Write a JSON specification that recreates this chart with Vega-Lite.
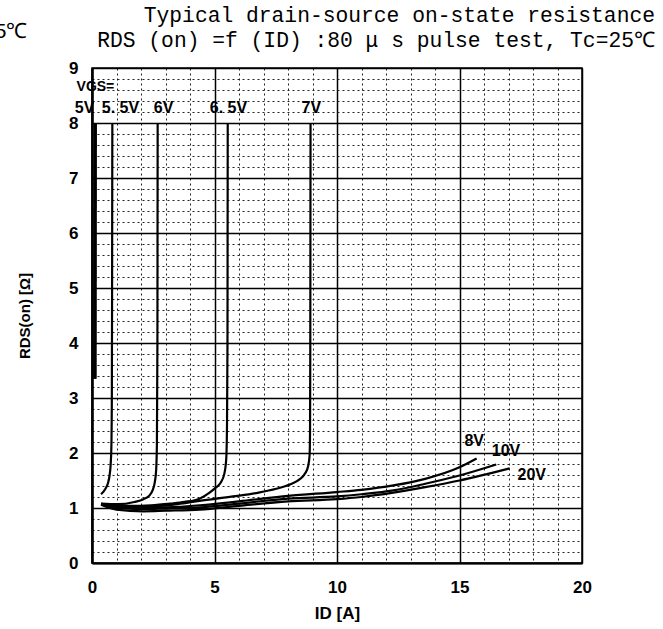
{
  "$schema": "https://vega.github.io/schema/vega-lite/v6.json",
  "autosize": {"type": "none"},
  "padding": {"left": 92, "top": 68, "right": 81, "bottom": 66},
  "width": 490,
  "height": 495,
  "background": "white",
  "config": {
    "view": {"stroke": "black", "strokeWidth": 1.5},
    "font": "Liberation Sans"
  },
  "title": {
    "text": "Typical drain-source on-state resistance",
    "subtitle": "RDS (on) =f (ID) :80 μ s pulse test,  Tc=25℃",
    "anchor": "end",
    "frame": "group",
    "align": "right",
    "dx": 73,
    "dy": 36,
    "font": "Liberation Mono",
    "fontSize": 21.3,
    "fontWeight": "normal",
    "color": "black",
    "subtitleFont": "Liberation Mono",
    "subtitleFontSize": 21.3,
    "subtitleColor": "black",
    "subtitlePadding": 4,
    "offset": 6
  },
  "datasets": {
    "curves": [
      {"vgs": "5V", "id": 0.12, "r": 3.35},
      {"vgs": "5V", "id": 0.13, "r": 8.0},
      {"vgs": "5.5V", "id": 0.37, "r": 1.25},
      {"vgs": "5.5V", "id": 0.55, "r": 1.35},
      {"vgs": "5.5V", "id": 0.65, "r": 1.45},
      {"vgs": "5.5V", "id": 0.72, "r": 1.6},
      {"vgs": "5.5V", "id": 0.76, "r": 1.78},
      {"vgs": "5.5V", "id": 0.79, "r": 2.1},
      {"vgs": "5.5V", "id": 0.81, "r": 3.0},
      {"vgs": "5.5V", "id": 0.82, "r": 5.0},
      {"vgs": "5.5V", "id": 0.83, "r": 8.0},
      {"vgs": "6V", "id": 0.37, "r": 1.08},
      {"vgs": "6V", "id": 1.05, "r": 1.07},
      {"vgs": "6V", "id": 1.73, "r": 1.11},
      {"vgs": "6V", "id": 2.1, "r": 1.16},
      {"vgs": "6V", "id": 2.35, "r": 1.23},
      {"vgs": "6V", "id": 2.48, "r": 1.33},
      {"vgs": "6V", "id": 2.56, "r": 1.46},
      {"vgs": "6V", "id": 2.62, "r": 1.7},
      {"vgs": "6V", "id": 2.65, "r": 2.2},
      {"vgs": "6V", "id": 2.67, "r": 4.0},
      {"vgs": "6V", "id": 2.68, "r": 8.0},
      {"vgs": "6.5V", "id": 0.37, "r": 1.07},
      {"vgs": "6.5V", "id": 1.5, "r": 1.04},
      {"vgs": "6.5V", "id": 2.41, "r": 1.05},
      {"vgs": "6.5V", "id": 3.2, "r": 1.08},
      {"vgs": "6.5V", "id": 3.78, "r": 1.11},
      {"vgs": "6.5V", "id": 4.39, "r": 1.17},
      {"vgs": "6.5V", "id": 4.8, "r": 1.28},
      {"vgs": "6.5V", "id": 5.05, "r": 1.37},
      {"vgs": "6.5V", "id": 5.25, "r": 1.46},
      {"vgs": "6.5V", "id": 5.4, "r": 1.62},
      {"vgs": "6.5V", "id": 5.48, "r": 1.9},
      {"vgs": "6.5V", "id": 5.51, "r": 2.5},
      {"vgs": "6.5V", "id": 5.53, "r": 4.0},
      {"vgs": "6.5V", "id": 5.54, "r": 8.0},
      {"vgs": "7V", "id": 0.37, "r": 1.06},
      {"vgs": "7V", "id": 2.0, "r": 1.02},
      {"vgs": "7V", "id": 3.5, "r": 1.07},
      {"vgs": "7V", "id": 4.39, "r": 1.13},
      {"vgs": "7V", "id": 5.75, "r": 1.21},
      {"vgs": "7V", "id": 6.8, "r": 1.28},
      {"vgs": "7V", "id": 7.52, "r": 1.35},
      {"vgs": "7V", "id": 8.1, "r": 1.43},
      {"vgs": "7V", "id": 8.47, "r": 1.52},
      {"vgs": "7V", "id": 8.7, "r": 1.63},
      {"vgs": "7V", "id": 8.82, "r": 1.76},
      {"vgs": "7V", "id": 8.88, "r": 1.95},
      {"vgs": "7V", "id": 8.9, "r": 2.4},
      {"vgs": "7V", "id": 8.91, "r": 4.0},
      {"vgs": "7V", "id": 8.92, "r": 8.0},
      {"vgs": "8V", "id": 0.37, "r": 1.08},
      {"vgs": "8V", "id": 1.0, "r": 1.02},
      {"vgs": "8V", "id": 2.0, "r": 1.0},
      {"vgs": "8V", "id": 3.0, "r": 1.01},
      {"vgs": "8V", "id": 4.4, "r": 1.05},
      {"vgs": "8V", "id": 6.0, "r": 1.12},
      {"vgs": "8V", "id": 8.0, "r": 1.22},
      {"vgs": "8V", "id": 10.0, "r": 1.29},
      {"vgs": "8V", "id": 11.0, "r": 1.33},
      {"vgs": "8V", "id": 12.3, "r": 1.41},
      {"vgs": "8V", "id": 13.6, "r": 1.53},
      {"vgs": "8V", "id": 15.0, "r": 1.74},
      {"vgs": "8V", "id": 15.7, "r": 1.9},
      {"vgs": "10V", "id": 0.37, "r": 1.07},
      {"vgs": "10V", "id": 1.0, "r": 1.0},
      {"vgs": "10V", "id": 2.0, "r": 0.98},
      {"vgs": "10V", "id": 3.0, "r": 0.99},
      {"vgs": "10V", "id": 4.4, "r": 1.01},
      {"vgs": "10V", "id": 6.0, "r": 1.08},
      {"vgs": "10V", "id": 8.0, "r": 1.17},
      {"vgs": "10V", "id": 10.0, "r": 1.21},
      {"vgs": "10V", "id": 11.0, "r": 1.25},
      {"vgs": "10V", "id": 12.3, "r": 1.32},
      {"vgs": "10V", "id": 13.6, "r": 1.44},
      {"vgs": "10V", "id": 15.0, "r": 1.59},
      {"vgs": "10V", "id": 16.5, "r": 1.79},
      {"vgs": "20V", "id": 0.37, "r": 1.06},
      {"vgs": "20V", "id": 1.0, "r": 0.97},
      {"vgs": "20V", "id": 2.1, "r": 0.94},
      {"vgs": "20V", "id": 3.0, "r": 0.95},
      {"vgs": "20V", "id": 4.4, "r": 0.97},
      {"vgs": "20V", "id": 6.0, "r": 1.04},
      {"vgs": "20V", "id": 8.0, "r": 1.12},
      {"vgs": "20V", "id": 10.0, "r": 1.16},
      {"vgs": "20V", "id": 11.0, "r": 1.2},
      {"vgs": "20V", "id": 12.3, "r": 1.28},
      {"vgs": "20V", "id": 13.6, "r": 1.38},
      {"vgs": "20V", "id": 15.0, "r": 1.5},
      {"vgs": "20V", "id": 17.05, "r": 1.72}
    ],
    "labels": [
      {"text": "5V", "id": -0.3, "r": 8.27},
      {"text": "5. 5V", "id": 1.16, "r": 8.27},
      {"text": "6V", "id": 2.92, "r": 8.27},
      {"text": "6. 5V", "id": 5.57, "r": 8.27},
      {"text": "7V", "id": 8.95, "r": 8.27},
      {"text": "8V", "id": 15.6, "r": 2.22},
      {"text": "10V", "id": 16.9, "r": 2.03},
      {"text": "20V", "id": 17.95, "r": 1.6}
    ],
    "small": [
      {"text": "VGS=", "id": 0.14, "r": 8.65}
    ],
    "edge": [
      {"text": "5℃", "id": -3.3, "r": 9.65}
    ]
  },
  "layer": [
    {
      "data": {"name": "curves"},
      "mark": {"type": "line", "color": "black", "strokeWidth": 2.2, "interpolate": "monotone"},
      "encoding": {
        "x": {
          "field": "id", "type": "quantitative",
          "scale": {"domain": [0, 20], "nice": false, "zero": false},
          "axis": {
            "values": [0,1,2,3,4,5,6,7,8,9,10,11,12,13,14,15,16,17,18,19,20],
            "tickCount": 100,
            "tickMinStep": 0.1,
            "labelExpr": "datum.value % 5 === 0 ? format(datum.value, 'd') : ''",
            "labelOverlap": false,
            "labelBound": false,
            "grid": true,
            "gridColor": {"condition": {"test": "datum.value % 5 === 0", "value": "black"}, "value": "#222"},
            "gridWidth": {"condition": {"test": "datum.value % 5 === 0", "value": 1.5}, "value": 1},
            "gridDash": {"condition": {"test": "datum.value % 5 === 0", "value": []}, "value": [2, 3]},
            "ticks": false,
            "domain": true,
            "domainColor": "black",
            "domainWidth": 2,
            "labelPadding": 16,
            "labelFont": "Liberation Sans",
            "labelFontSize": 17,
            "labelFontWeight": "bold",
            "labelColor": "black",
            "labelFlush": false,
            "title": "ID [A]",
            "titleFont": "Liberation Sans",
            "titleFontSize": 17,
            "titleFontWeight": "bold",
            "titleColor": "black",
            "titlePadding": 10
          }
        },
        "y": {
          "field": "r", "type": "quantitative",
          "scale": {"domain": [0, 9], "nice": false, "zero": false},
          "axis": {
            "values": [0,0.2,0.4,0.6,0.8,1,1.2,1.4,1.6,1.8,2,2.2,2.4,2.6,2.8,3,3.2,3.4,3.6,3.8,4,4.2,4.4,4.6,4.8,5,5.2,5.4,5.6,5.8,6,6.2,6.4,6.6,6.8,7,7.2,7.4,7.6,7.8,8,8.2,8.4,8.6,8.8,9],
            "tickCount": 100,
            "tickMinStep": 0.05,
            "labelExpr": "datum.value % 1 === 0 ? format(datum.value, 'd') : ''",
            "labelOverlap": false,
            "labelBound": false,
            "grid": true,
            "gridColor": {"condition": {"test": "datum.value % 1 === 0", "value": "black"}, "value": "#222"},
            "gridWidth": {"condition": {"test": "datum.value % 1 === 0", "value": 1.5}, "value": 1},
            "gridDash": {"condition": {"test": "datum.value % 1 === 0", "value": []}, "value": [2, 3]},
            "ticks": false,
            "domain": true,
            "domainColor": "black",
            "domainWidth": 2.5,
            "labelPadding": 14,
            "labelFont": "Liberation Sans",
            "labelFontSize": 17,
            "labelFontWeight": "bold",
            "labelColor": "black",
            "labelFlush": false,
            "title": "RDS(on) [Ω]",
            "titleFont": "Liberation Sans",
            "titleFontSize": 15,
            "titleFontWeight": "bold",
            "titleColor": "black",
            "titlePadding": 36
          }
        },
        "detail": {"field": "vgs", "type": "nominal"}
      }
    },
    {
      "data": {"name": "curves"},
      "transform": [{"filter": "datum.vgs === '5V'"}],
      "mark": {"type": "line", "color": "black", "strokeWidth": 3.5},
      "encoding": {
        "x": {"field": "id", "type": "quantitative"},
        "y": {"field": "r", "type": "quantitative"}
      }
    },
    {
      "data": {"name": "labels"},
      "mark": {"type": "text", "color": "black", "font": "Liberation Sans", "fontSize": 16, "fontWeight": "bold", "align": "center", "baseline": "middle"},
      "encoding": {
        "x": {"field": "id", "type": "quantitative"},
        "y": {"field": "r", "type": "quantitative"},
        "text": {"field": "text"}
      }
    },
    {
      "data": {"name": "small"},
      "mark": {"type": "text", "color": "black", "font": "Liberation Sans", "fontSize": 14, "fontWeight": "bold", "align": "center", "baseline": "middle"},
      "encoding": {
        "x": {"field": "id", "type": "quantitative"},
        "y": {"field": "r", "type": "quantitative"},
        "text": {"field": "text"}
      }
    },
    {
      "data": {"name": "edge"},
      "mark": {"type": "text", "color": "black", "fontSize": 21, "font": "Liberation Sans", "align": "center", "baseline": "middle"},
      "encoding": {
        "x": {"field": "id", "type": "quantitative"},
        "y": {"field": "r", "type": "quantitative"},
        "text": {"field": "text"}
      }
    }
  ]
}
